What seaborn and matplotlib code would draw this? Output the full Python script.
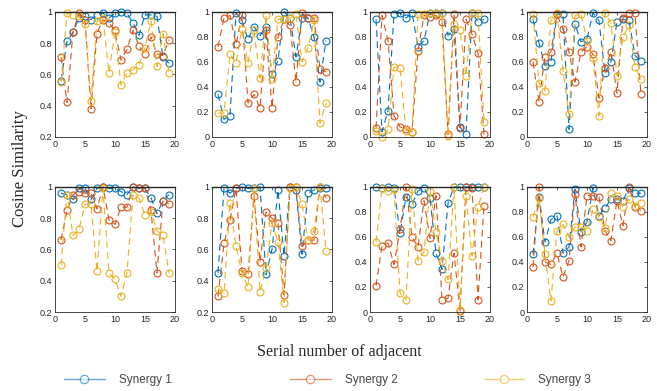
import numpy as np
import pandas as pd
import matplotlib
matplotlib.use('Agg')
import matplotlib.pyplot as plt
from matplotlib.lines import Line2D
import seaborn as sns

# serial numbers of adjacent windows
serial = list(range(1, 20))

# panel values (top row left->right, then bottom row)
p1_syn1 = [0.56, 0.81, 0.87, 0.96, 0.97, 0.95, 0.98, 0.99, 0.96, 0.99, 1.00, 0.99, 0.93, 0.85, 0.98, 0.98, 0.97, 0.71, 0.67]
p1_syn2 = [0.71, 0.42, 0.87, 0.99, 0.95, 0.38, 0.86, 0.95, 0.93, 0.88, 0.69, 0.76, 0.88, 0.78, 0.73, 0.84, 0.73, 0.72, 0.82]
p1_syn3 = [0.55, 0.99, 0.98, 0.97, 0.92, 0.43, 0.94, 0.96, 0.61, 0.87, 0.53, 0.61, 0.63, 0.66, 0.77, 0.94, 0.65, 0.86, 0.61]

p2_syn1 = [0.34, 0.14, 0.17, 0.99, 0.93, 0.78, 0.88, 0.81, 0.88, 0.50, 0.61, 1.00, 0.95, 0.64, 0.95, 0.95, 0.80, 0.44, 0.77]
p2_syn2 = [0.72, 0.95, 0.97, 0.74, 0.97, 0.27, 0.34, 0.23, 0.85, 0.23, 0.80, 0.94, 0.89, 0.44, 0.99, 0.95, 0.95, 0.54, 0.52]
p2_syn3 = [0.19, 0.19, 0.66, 0.59, 0.86, 0.59, 0.85, 0.47, 0.97, 0.46, 0.94, 0.94, 0.95, 0.98, 0.60, 0.71, 0.93, 0.11, 0.27]

p3_syn1 = [0.94, 0.04, 0.21, 0.98, 0.99, 0.95, 0.99, 0.72, 0.77, 0.99, 0.99, 0.99, 0.81, 0.86, 0.08, 0.02, 0.99, 0.92, 0.94]
p3_syn2 = [0.07, 0.97, 0.77, 0.17, 0.08, 0.06, 0.04, 0.69, 0.97, 0.96, 0.97, 0.92, 0.02, 0.98, 0.07, 0.94, 0.82, 0.67, 0.02]
p3_syn3 = [0.05, 0.00, 0.06, 0.56, 0.55, 0.05, 0.04, 0.98, 0.98, 0.99, 0.99, 0.99, 0.01, 0.90, 0.85, 0.49, 0.99, 0.99, 0.12]

p4_syn1 = [0.94, 0.75, 0.57, 0.60, 0.98, 0.98, 0.06, 0.90, 0.76, 0.78, 0.99, 0.93, 0.51, 0.60, 0.92, 0.94, 0.93, 0.65, 0.61]
p4_syn2 = [0.60, 0.28, 0.64, 0.68, 0.98, 0.86, 0.68, 0.44, 0.68, 0.72, 0.66, 0.31, 0.55, 0.68, 0.35, 0.95, 0.99, 0.99, 0.34]
p4_syn3 = [0.98, 0.43, 0.37, 0.93, 0.99, 0.53, 0.18, 0.97, 0.98, 0.77, 0.63, 0.17, 0.99, 0.91, 0.49, 0.80, 0.89, 0.56, 0.46]

p5_syn1 = [0.96, 0.95, 0.92, 0.99, 0.99, 0.92, 0.99, 1.00, 0.99, 0.99, 0.97, 0.95, 1.00, 0.99, 0.99, 0.93, 0.83, 0.91, 0.95]
p5_syn2 = [0.66, 0.85, 0.95, 0.97, 0.96, 0.96, 0.86, 1.00, 0.79, 0.76, 0.87, 0.87, 1.00, 0.99, 0.99, 0.85, 0.45, 0.91, 0.89]
p5_syn3 = [0.50, 0.95, 0.69, 0.73, 0.89, 0.89, 0.46, 0.99, 0.45, 0.41, 0.30, 0.45, 0.95, 0.93, 0.82, 0.84, 0.72, 0.69, 0.45]

p6_syn1 = [0.45, 0.99, 0.96, 0.99, 1.00, 0.99, 0.99, 1.00, 0.44, 0.60, 0.98, 0.56, 1.00, 0.98, 0.57, 0.96, 0.98, 0.99, 0.99]
p6_syn2 = [0.30, 0.64, 0.79, 0.99, 0.46, 0.44, 0.94, 0.52, 0.84, 0.80, 0.77, 0.31, 1.00, 1.00, 0.62, 0.66, 0.66, 1.00, 0.93]
p6_syn3 = [0.35, 0.32, 0.90, 0.62, 0.45, 0.36, 0.99, 0.33, 0.48, 0.77, 0.65, 0.26, 0.99, 1.00, 0.89, 0.66, 0.72, 1.00, 0.59]

p7_syn1 = [1.00, 0.99, 1.00, 0.99, 0.63, 0.92, 0.86, 0.97, 0.99, 0.91, 0.47, 0.34, 0.87, 1.00, 1.00, 1.00, 1.00, 1.00, 1.00]
p7_syn2 = [0.21, 0.53, 0.55, 0.38, 0.66, 1.00, 0.60, 0.52, 0.89, 0.59, 0.93, 0.10, 0.11, 0.47, 0.01, 1.00, 0.99, 0.10, 0.85]
p7_syn3 = [0.56, 0.99, 0.97, 0.98, 0.15, 0.10, 0.98, 0.41, 0.48, 0.97, 0.64, 0.41, 0.26, 1.00, 0.02, 0.93, 0.45, 0.84, 1.00]

p8_syn1 = [0.46, 0.92, 0.56, 0.74, 0.77, 0.47, 0.52, 0.98, 0.64, 0.72, 0.99, 0.77, 0.83, 0.90, 0.90, 0.89, 0.99, 0.95, 0.95]
p8_syn2 = [0.36, 1.00, 0.40, 0.38, 0.47, 0.28, 0.41, 0.94, 0.52, 0.93, 0.93, 0.92, 0.65, 0.57, 0.89, 0.69, 1.00, 0.84, 0.81]
p8_syn3 = [0.76, 0.91, 0.46, 0.09, 0.65, 0.70, 0.60, 0.68, 0.68, 0.65, 0.82, 0.76, 0.67, 0.95, 0.93, 0.84, 0.90, 0.85, 0.87]

panels = [
    (p1_syn1, p1_syn2, p1_syn3, 0.2),
    (p2_syn1, p2_syn2, p2_syn3, 0.0),
    (p3_syn1, p3_syn2, p3_syn3, 0.0),
    (p4_syn1, p4_syn2, p4_syn3, 0.0),
    (p5_syn1, p5_syn2, p5_syn3, 0.2),
    (p6_syn1, p6_syn2, p6_syn3, 0.2),
    (p7_syn1, p7_syn2, p7_syn3, 0.0),
    (p8_syn1, p8_syn2, p8_syn3, 0.0),
]

names = ['Synergy 1', 'Synergy 2', 'Synergy 3']
colors = ['#0072BD', '#D95319', '#EDB120']

sns.set_theme(style='white')
plt.rcParams['font.family'] = ['Liberation Sans', 'DejaVu Sans']

fig = plt.figure(figsize=(6.57, 3.91), dpi=100)

# axes positions in figure fractions
lefts = [0.0837, 0.3227, 0.5632, 0.8021]
bottoms = [0.650, 0.202]
w, h = 0.1826, 0.320

for i, (s1, s2, s3, ymin) in enumerate(panels):
    ax = fig.add_axes([lefts[i % 4], bottoms[i // 4], w, h])
    df = pd.DataFrame({'serial': serial * 3,
                       'cos': s1 + s2 + s3,
                       'syn': [n for n in names for _ in serial]})
    for name, c in zip(names, colors):
        sns.lineplot(data=df[df['syn'] == name], x='serial', y='cos', ax=ax,
                     color=c, marker='o', markersize=5, markerfacecolor='none',
                     markeredgecolor=c, markeredgewidth=0.8, linewidth=0.8,
                     linestyle=(0, (6, 4)), clip_on=False)
    ax.set_xlim(0, 20)
    ax.set_ylim(ymin, 1)
    ax.set_xticks([0, 5, 10, 15, 20])
    yt = np.round(np.arange(ymin, 1.01, 0.2), 1)
    ax.set_yticks(yt)
    ax.set_yticklabels([f'{v:g}' for v in yt])
    ax.set_xlabel('')
    ax.set_ylabel('')
    ax.tick_params(direction='in', length=2.5, width=0.5, labelsize=6.5,
                   colors='#262626', top=True, right=True, pad=2)
    for sp in ax.spines.values():
        sp.set_color('#262626')
        sp.set_linewidth(0.6)
    ax.spines['top'].set_linewidth(1.0)

fig.text(0.03, 0.57, 'Cosine Similarity', rotation=90, ha='center', va='center',
         fontsize=12, family=['Liberation Serif', 'DejaVu Serif'])
fig.text(0.516, 0.10, 'Serial number of adjacent', ha='center', va='center',
         fontsize=11.5, family=['Liberation Serif', 'DejaVu Serif'])

# three legend entries, placed separately like the reference
leg_x = [0.098, 0.442, 0.736]
for name, c, lx in zip(names, colors, leg_x):
    hnd = Line2D([], [], color=c, alpha=0.6, marker='o', markersize=6,
                 markerfacecolor='white', markeredgewidth=0.9, linewidth=1.0)
    fig.legend([hnd], [name], loc='center left', bbox_to_anchor=(lx, 0.028),
               frameon=False, fontsize=8.5, handlelength=3.4, handletextpad=1.2,
               borderpad=0, borderaxespad=0, labelcolor='#444444')

fig.savefig('out.png', dpi=100)
